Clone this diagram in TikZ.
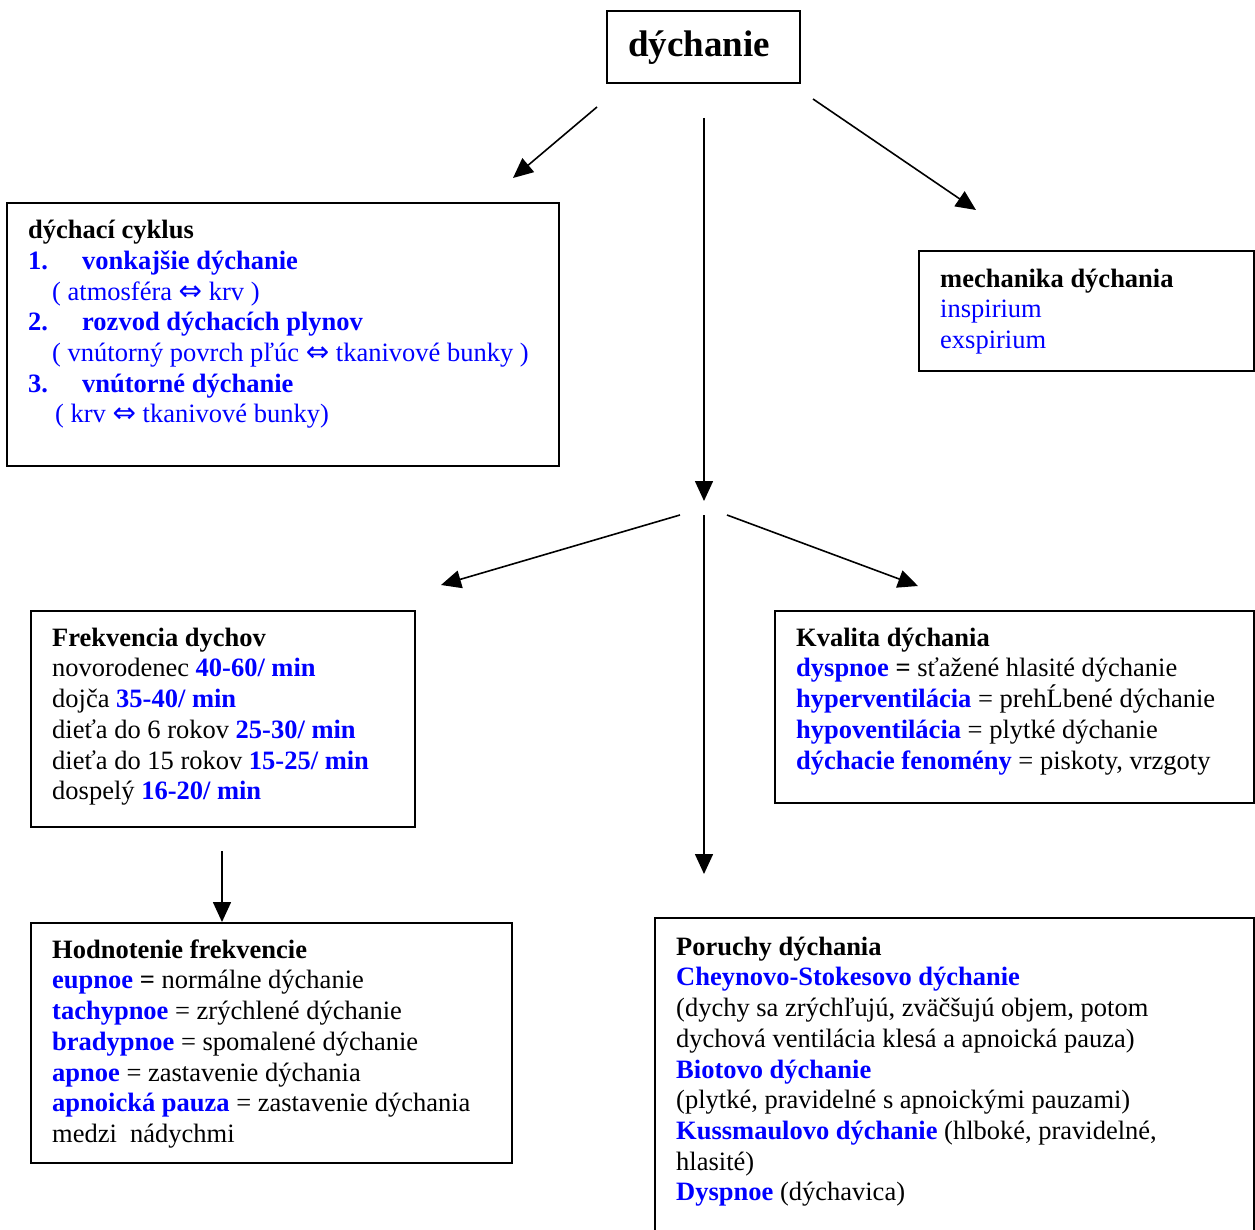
\documentclass[tikz,border=0pt]{standalone}
\usepackage{fontspec}
\setmainfont{Liberation Serif}
\newfontfamily\symfont{DejaVu Sans}
\usetikzlibrary{arrows.meta}
\definecolor{tblue}{RGB}{0,0,255}
\newcommand{\bl}[1]{\textcolor{tblue}{\textbf{#1}}}
\newcommand{\nb}[1]{\textcolor{tblue}{#1}}
\newcommand{\lr}{{\symfont\fontsize{28}{28}\selectfont ⇔}}
\newcommand{\fst}{\rule{0pt}{26pt}}
\tikzset{
  box/.style={draw=black, line width=2pt},
  txt/.style={anchor=north west, inner sep=0pt, align=left, font={\fontsize{26.5}{30.7}\selectfont}},
  conn/.style={draw=black, line width=1.6pt, -{Triangle[length=20pt,width=18pt]}},
}
\begin{document}
\begin{tikzpicture}[x=1pt,y=-1pt]
\useasboundingbox (0,0) rectangle (1255,1230);
\clip (0,0) rectangle (1255,1230);
\fill[white] (0,0) rectangle (1255,1230);

% boxes
\draw[box] (607,11) rectangle (800,83);
\draw[box] (7,203) rectangle (559,466);
\draw[box] (919,251) rectangle (1254,371);
\draw[box] (31,611) rectangle (415,827);
\draw[box] (775,611) rectangle (1254,803);
\draw[box] (31,923) rectangle (512,1163);
\draw[box] (655,918) rectangle (1254,1245);

% title
\node[anchor=base west, inner sep=0pt, font={\fontsize{37}{40}\selectfont\bfseries}] (title) at (628,57) {dýchanie};

% texts
\node[txt] (cyklus) at (28,238.5-26) {\fst\textbf{dýchací cyklus}\\
\bl{\makebox[54pt][l]{1.}vonkajšie dýchanie}\\
\hspace*{24pt}\nb{( atmosféra \lr{} krv )}\\
\bl{\makebox[54pt][l]{2.}rozvod dýchacích plynov}\\
\hspace*{24pt}\nb{( vnútorný povrch pľúc \lr{} tkanivové bunky )}\\
\bl{\makebox[54pt][l]{3.}vnútorné dýchanie}\\
\hspace*{27pt}\nb{( krv \lr{} tkanivové bunky)}};

\node[txt] (mech) at (940,287-26) {\fst\textbf{mechanika dýchania}\\
\nb{inspirium}\\
\nb{exspirium}};

\node[txt] (frek) at (52,646-26) {\fst\textbf{Frekvencia dychov}\\
novorodenec \bl{40-60/ min}\\
dojča \bl{35-40/ min}\\
dieťa do 6 rokov \bl{25-30/ min}\\
dieťa do 15 rokov \bl{15-25/ min}\\
dospelý \bl{16-20/ min}};

\node[txt] (kval) at (796,646-26) {\fst\textbf{Kvalita dýchania}\\
\bl{dyspnoe} \textbf{=} sťažené hlasité dýchanie\\
\bl{hyperventilácia} = prehĹbené dýchanie\\
\bl{hypoventilácia} = plytké dýchanie\\
\bl{dýchacie fenomény} = piskoty, vrzgoty};

\node[txt] (hodn) at (52,958-26) {\fst\textbf{Hodnotenie frekvencie}\\
\bl{eupnoe} \textbf{=} normálne dýchanie\\
\bl{tachypnoe} = zrýchlené dýchanie\\
\bl{bradypnoe} = spomalené dýchanie\\
\bl{apnoe} = zastavenie dýchania\\
\bl{apnoická pauza} = zastavenie dýchania\\
medzi\ \ nádychmi};

\node[txt] (poruchy) at (676,955-26) {\fst\textbf{Poruchy dýchania}\\
\bl{Cheynovo-Stokesovo dýchanie}\\
(dychy sa zrýchľujú, zväčšujú objem, potom\\
dychová ventilácia klesá a apnoická pauza)\\
\bl{Biotovo dýchanie}\\
(plytké, pravidelné s apnoickými pauzami)\\
\bl{Kussmaulovo dýchanie} (hlboké, pravidelné,\\
hlasité)\\
\bl{Dyspnoe} (dýchavica)};

% connector end points
\coordinate (a1s) at (597,107);
\coordinate (a1e) at (513,178);
\coordinate (a2s) at (704,118);
\coordinate (a2e) at (704,501);
\coordinate (a3s) at (813,99);
\coordinate (a3e) at (976,210);
\coordinate (b1s) at (680,515);
\coordinate (b1e) at (441,585);
\coordinate (b2s) at (727,515);
\coordinate (b2e) at (918,586);
\coordinate (b3s) at (704,515);
\coordinate (b3e) at (704,874);
\coordinate (c1s) at (222,851);
\coordinate (c1e) at (222,922);

\draw[conn] (a1s) -- (a1e);
\draw[conn] (a2s) -- (a2e);
\draw[conn] (a3s) -- (a3e);
\draw[conn] (b1s) -- (b1e);
\draw[conn] (b2s) -- (b2e);
\draw[conn] (b3s) -- (b3e);
\draw[conn] (c1s) -- (c1e);
\end{tikzpicture}
\end{document}
